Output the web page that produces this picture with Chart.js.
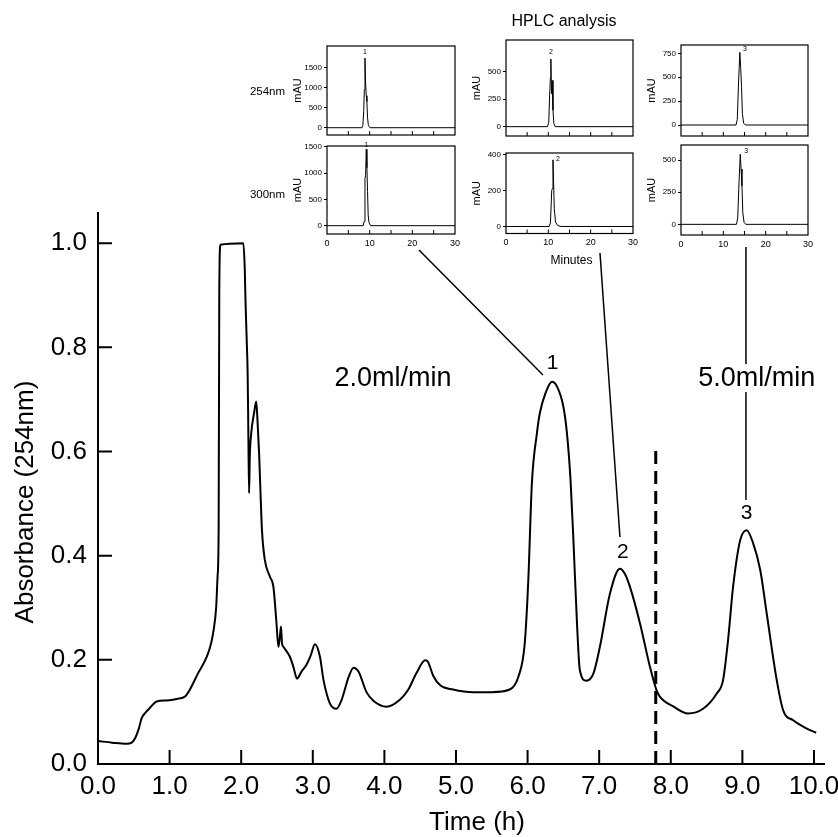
<!DOCTYPE html>
<html>
<head>
<meta charset="utf-8">
<script src="https://cdn.jsdelivr.net/npm/chart.js@4"></script>
<style>
  body { margin: 0; background: #fff; }
  #wrap { position: relative; width: 838px; height: 837px; overflow: hidden; }
  #main { position: absolute; left: 0; top: 0; }
  .inset { position: absolute; }
  .lbl { position: absolute; font-family: "Liberation Sans", Arial, sans-serif; color: #000;
         white-space: nowrap; line-height: 1; transform: translate(-50%, -50%); }
</style>
</head>
<body>
<div id="wrap">
  <canvas id="main" width="838" height="837"></canvas>
</div>
<script>
// ---- main trace (time in h, absorbance at 254nm) ----
const timeH = [0.00, 0.20, 0.40, 0.47, 0.52, 0.57, 0.61, 0.66, 0.72, 0.82, 0.96, 1.10, 1.22, 1.28, 1.40,
  1.52, 1.58, 1.62, 1.65, 1.67, 1.685, 1.694, 1.71, 2.03, 2.05, 2.06, 2.077, 2.09, 2.10, 2.11, 2.12,
  2.14, 2.18, 2.21, 2.225, 2.25, 2.27, 2.29, 2.33, 2.40, 2.45, 2.49, 2.52, 2.54, 2.556, 2.57, 2.59,
  2.68, 2.73, 2.78, 2.84, 2.91, 2.97, 3.03, 3.10, 3.15, 3.24, 3.33, 3.40, 3.50, 3.57, 3.64, 3.75,
  3.85, 4.03, 4.22, 4.33, 4.45, 4.57, 4.61, 4.68, 4.78, 4.96, 5.24, 5.50, 5.75, 5.87, 5.96, 6.01,
  6.06, 6.13, 6.17, 6.25, 6.34, 6.41, 6.50, 6.55, 6.60, 6.64, 6.69, 6.73, 6.82, 6.92, 7.01, 7.15,
  7.29, 7.36, 7.43, 7.57, 7.71, 7.80, 7.85, 8.04, 8.24, 8.45, 8.64, 8.73, 8.80, 8.87, 8.97, 9.06,
  9.15, 9.25, 9.34, 9.48, 9.57, 9.71, 9.90, 10.03];
const absorbance = [0.044, 0.041, 0.039, 0.041, 0.050, 0.068, 0.088, 0.098, 0.107, 0.120, 0.122, 0.125, 0.130, 0.142, 0.175,
  0.206, 0.232, 0.262, 0.300, 0.360, 0.450, 0.910, 0.997, 1.000, 0.950, 0.890, 0.814, 0.750, 0.636, 0.520, 0.590,
  0.635, 0.674, 0.696, 0.667, 0.597, 0.520, 0.449, 0.392, 0.360, 0.340, 0.276, 0.225, 0.244, 0.264, 0.232, 0.225,
  0.206, 0.186, 0.164, 0.177, 0.190, 0.208, 0.230, 0.206, 0.161, 0.116, 0.106, 0.122, 0.167, 0.185, 0.177, 0.138,
  0.121, 0.110, 0.124, 0.142, 0.175, 0.199, 0.196, 0.170, 0.151, 0.143, 0.138, 0.138, 0.143, 0.167, 0.231, 0.353,
  0.539, 0.635, 0.673, 0.712, 0.734, 0.725, 0.686, 0.635, 0.545, 0.430, 0.270, 0.180, 0.160, 0.174, 0.225, 0.327,
  0.375, 0.365, 0.340, 0.270, 0.186, 0.142, 0.129, 0.110, 0.097, 0.106, 0.135, 0.161, 0.238, 0.340, 0.430, 0.449,
  0.424, 0.372, 0.289, 0.161, 0.103, 0.084, 0.068, 0.060];
const xTicks = [0, 1, 2, 3, 4, 5, 6, 7, 8, 9, 10];
const yTicks = [0, 0.2, 0.4, 0.6, 0.8, 1.0];
const flowSwitchTime = 7.79;
const flowSwitchTop = 0.61;
const flowRates = ['2.0ml/min', '5.0ml/min'];
const peakNames = ['1', '2', '3'];

// ---- HPLC insets (minutes, mAU) ----
const p1_254_min = [0, 8.2, 8.4, 8.6, 8.75, 8.9, 9.05, 9.2, 9.35, 9.5, 9.7, 10.1, 30];
const p1_254_mAU = [0, 0, 60, 400, 950, 1740, 1100, 800, 650, 250, 60, 0, 0];
const p1_300_min = [0, 8.5, 8.7, 8.9, 9.05, 9.2, 9.35, 9.5, 9.65, 9.85, 10.2, 30];
const p1_300_mAU = [0, 0, 80, 900, 950, 1450, 1100, 650, 200, 60, 0, 0];
const p2_254_min = [0, 9.8, 10.1, 10.3, 10.5, 10.6, 10.75, 10.9, 11.1, 11.3, 11.6, 30];
const p2_254_mAU = [0, 0, 40, 280, 450, 615, 300, 420, 150, 30, 0, 0];
const p2_300_min = [0, 10.2, 10.5, 10.8, 10.95, 11.1, 11.25, 11.4, 11.7, 12.2, 13, 30];
const p2_300_mAU = [0, 0, 20, 200, 210, 370, 240, 100, 25, 5, 0, 0];
const p3_254_min = [0, 13.0, 13.3, 13.6, 13.9, 14.1, 14.3, 14.5, 14.8, 15.2, 30];
const p3_254_mAU = [0, 0, 60, 450, 760, 600, 400, 120, 20, 0, 0];
const p3_300_min = [0, 13.1, 13.4, 13.7, 14.0, 14.2, 14.4, 14.6, 14.9, 15.3, 30];
const p3_300_mAU = [0, 0, 50, 320, 545, 430, 300, 90, 15, 0, 0];
const minuteTicks = [0, 5, 10, 15, 20, 25, 30];

const FONT = '"Liberation Sans", Arial, Helvetica, sans-serif';
Chart.defaults.font.family = FONT;
Chart.defaults.color = '#000';

const wrap = document.getElementById('wrap');

const mainDecor = {
  id: 'mainDecor',
  afterDraw(chart) {
    const { ctx, scales: { x, y } } = chart;
    const px = v => x.getPixelForValue(v), py = v => y.getPixelForValue(v);
    ctx.save();
    ctx.strokeStyle = '#000';
    ctx.fillStyle = '#000';
    // inward tick marks
    ctx.lineWidth = 2;
    ctx.beginPath();
    xTicks.filter(v => v > 0).forEach(v => { ctx.moveTo(px(v), y.bottom); ctx.lineTo(px(v), y.bottom - 14); });
    yTicks.filter(v => v > 0).forEach(v => { ctx.moveTo(x.left, py(v)); ctx.lineTo(x.left + 14, py(v)); });
    ctx.stroke();

    // connectors from the HPLC insets to the peaks
    ctx.lineWidth = 1.5;
    ctx.beginPath();
    ctx.moveTo(419, 250); ctx.lineTo(px(6.215), py(0.747));
    ctx.moveTo(600, 253); ctx.lineTo(px(7.29), py(0.436));
    ctx.moveTo(px(9.05), 247); ctx.lineTo(px(9.05), py(0.507));
    ctx.stroke();

    // axis titles
    ctx.font = '26px ' + FONT;
    ctx.textAlign = 'center';
    ctx.textBaseline = 'alphabetic';
    ctx.fillText('Time (h)', 477, 830);
    ctx.save();
    ctx.translate(33, 502);
    ctx.rotate(-Math.PI / 2);
    ctx.fillText('Absorbance (254nm)', 0, 0);
    ctx.restore();

    // flow rates
    ctx.font = '27px ' + FONT;
    ctx.textBaseline = 'middle';
    ctx.fillText(flowRates[0], px(4.12), py(0.741));
    const w = ctx.measureText(flowRates[1]).width;
    ctx.fillStyle = '#fff';
    ctx.fillRect(px(9.2) - w / 2 - 1, py(0.741) - 14, w + 2, 28);
    ctx.fillStyle = '#000';
    ctx.fillText(flowRates[1], px(9.2), py(0.741));

    // peak numbers
    ctx.font = '21px ' + FONT;
    ctx.fillText(peakNames[0], px(6.35), py(0.769));
    ctx.fillText(peakNames[1], px(7.33), py(0.407));
    ctx.fillText(peakNames[2], px(9.06), py(0.482));
    ctx.restore();
  }
};

new Chart(document.getElementById('main'), {
  type: 'line',
  data: {
    datasets: [
      {
        data: timeH.map((t, i) => ({ x: t, y: absorbance[i] })),
        borderColor: '#000', borderWidth: 2, pointRadius: 0,
        cubicInterpolationMode: 'monotone', fill: false
      },
      {
        data: [{ x: flowSwitchTime, y: 0 }, { x: flowSwitchTime, y: flowSwitchTop }],
        borderColor: '#000', borderWidth: 3, borderDash: [13, 7], pointRadius: 0, fill: false
      }
    ]
  },
  options: {
    responsive: false,
    animation: false,
    layout: { padding: { top: 213, right: 14, left: 0, bottom: 0 } },
    plugins: { legend: { display: false }, tooltip: { enabled: false } },
    scales: {
      x: {
        type: 'linear', min: 0, max: 10.14,
        afterBuildTicks: s => { s.ticks = xTicks.map(v => ({ value: v })); },
        afterFit: s => { s.height = 73; s.paddingLeft = 0; s.paddingRight = 0; },
        grid: { display: false, drawTicks: false },
        border: { display: true, color: '#000', width: 2 },
        ticks: { font: { size: 26 }, padding: 7, autoSkip: false, maxRotation: 0, callback: v => v.toFixed(1) }
      },
      y: {
        type: 'linear', min: 0, max: 1.058,
        afterBuildTicks: s => { s.ticks = yTicks.map(v => ({ value: v })); },
        afterFit: s => { s.width = 98; s.paddingTop = 0; s.paddingBottom = 0; },
        grid: { display: false, drawTicks: false },
        border: { display: true, color: '#000', width: 2 },
        ticks: { font: { size: 26 }, padding: 11, autoSkip: false, callback: v => v.toFixed(1) }
      }
    }
  },
  plugins: [mainDecor]
});

// ---- insets ----
const insetDecor = {
  id: 'insetDecor',
  afterDraw(chart, args, opts) {
    const { ctx, chartArea: a, scales: { x, y } } = chart;
    ctx.save();
    ctx.strokeStyle = '#000';
    ctx.lineWidth = 1.2;
    ctx.strokeRect(a.left, a.top, a.right - a.left, a.bottom - a.top);
    ctx.lineWidth = 1;
    ctx.beginPath();
    minuteTicks.filter(v => v > 0 && v < 30).forEach(v => {
      const p = x.getPixelForValue(v);
      ctx.moveTo(p, a.bottom); ctx.lineTo(p, a.bottom - 4);
    });
    ctx.stroke();
    // peak number
    const ds = chart.data.datasets[0].data;
    let k = 0;
    ds.forEach((d, i) => { if (d.y > ds[k].y) k = i; });
    ctx.fillStyle = '#000';
    ctx.font = '7px ' + FONT;
    ctx.textAlign = 'center';
    ctx.textBaseline = 'middle';
    ctx.fillText(opts.label, x.getPixelForValue(ds[k].x) + opts.dx, y.getPixelForValue(ds[k].y) + opts.dy);
    ctx.restore();
  }
};

const insetPanels = [
  { left: 327, top: 46, w: 128, h: 89, min: -182, max: 2042, ticks: [0, 500, 1000, 1500], t: p1_254_min, v: p1_254_mAU, label: '1', dx: 0, dy: -6, bottom: false },
  { left: 327, top: 146, w: 128, h: 88, min: -158, max: 1513, ticks: [0, 500, 1000, 1500], t: p1_300_min, v: p1_300_mAU, label: '1', dx: 0, dy: -4, bottom: true },
  { left: 505.5, top: 40, w: 127, h: 96, min: -85, max: 788, ticks: [0, 250, 500], t: p2_254_min, v: p2_254_mAU, label: '2', dx: 0, dy: -7, bottom: false },
  { left: 505.5, top: 152.5, w: 127, h: 80.5, min: -39, max: 408, ticks: [0, 200, 400], t: p2_300_min, v: p2_300_mAU, label: '2', dx: 5, dy: -1, bottom: true },
  { left: 681, top: 45, w: 127, h: 91, min: -115, max: 837, ticks: [0, 250, 500, 750], t: p3_254_min, v: p3_254_mAU, label: '3', dx: 5, dy: -3, bottom: false },
  { left: 681, top: 145, w: 127, h: 90, min: -83, max: 617, ticks: [0, 250, 500], t: p3_300_min, v: p3_300_mAU, label: '3', dx: 6, dy: -3, bottom: true }
];

insetPanels.forEach(p => {
  const L = 36, T = 8, R = 8, B = p.bottom ? 18 : 3;
  const c = document.createElement('canvas');
  c.className = 'inset';
  c.width = Math.round(p.w + L + R);
  c.height = Math.round(p.h + T + B);
  c.style.left = (p.left - L) + 'px';
  c.style.top = (p.top - T) + 'px';
  wrap.appendChild(c);
  new Chart(c, {
    type: 'line',
    data: {
      datasets: [{
        data: p.t.map((t, i) => ({ x: t, y: p.v[i] })),
        borderColor: '#000', borderWidth: 1, pointRadius: 0, tension: 0, fill: false
      }]
    },
    options: {
      responsive: false,
      animation: false,
      layout: { padding: { left: 0, top: T, right: c.width - L - p.w, bottom: 0 } },
      plugins: {
        legend: { display: false }, tooltip: { enabled: false },
        insetDecor: { label: p.label, dx: p.dx, dy: p.dy }
      },
      scales: {
        x: {
          type: 'linear', min: 0, max: 30,
          afterBuildTicks: s => { s.ticks = minuteTicks.map(v => ({ value: v })); },
          afterFit: s => { s.height = c.height - T - p.h; s.paddingLeft = 0; s.paddingRight = 0; },
          grid: { display: false, drawTicks: false },
          border: { display: false },
          ticks: {
            display: p.bottom, font: { size: 9 }, padding: 4, autoSkip: false, maxRotation: 0,
            callback: v => (v % 10 === 0 ? String(v) : '')
          }
        },
        y: {
          type: 'linear', min: p.min, max: p.max,
          afterBuildTicks: s => { s.ticks = p.ticks.map(v => ({ value: v })); },
          afterFit: s => { s.width = L; s.paddingTop = 0; s.paddingBottom = 0; },
          grid: { display: true, drawOnChartArea: false, drawTicks: true, tickLength: 3, color: '#000', lineWidth: 1 },
          border: { display: false },
          ticks: { font: { size: 8 }, padding: 2, autoSkip: false, callback: v => String(v) },
          title: { display: true, text: 'mAU', font: { size: 11 }, padding: { top: 0, bottom: 0 } }
        }
      }
    },
    plugins: [insetDecor]
  });
});

// ---- inset captions ----
[
  { text: 'HPLC analysis', x: 564, y: 21, size: 16 },
  { text: '254nm', x: 267.5, y: 91.5, size: 11.5 },
  { text: '300nm', x: 267.5, y: 195, size: 11.5 },
  { text: 'Minutes', x: 571.5, y: 260, size: 12 }
].forEach(o => {
  const d = document.createElement('div');
  d.className = 'lbl';
  d.textContent = o.text;
  d.style.left = o.x + 'px';
  d.style.top = o.y + 'px';
  d.style.fontSize = o.size + 'px';
  wrap.appendChild(d);
});
</script>
</body>
</html>
